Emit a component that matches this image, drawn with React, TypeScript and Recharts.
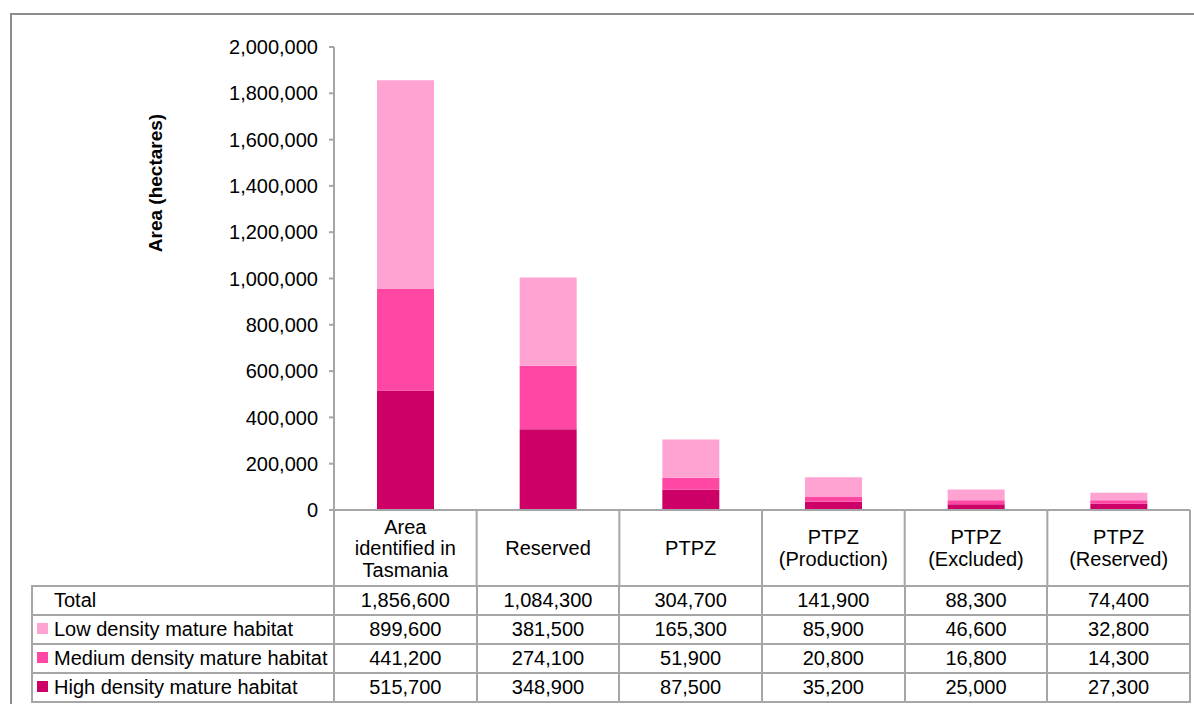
import React from 'react';
import { BarChart, Bar, XAxis, YAxis } from 'recharts';

const categories = ['Area identified in Tasmania', 'Reserved', 'PTPZ', 'PTPZ (Production)', 'PTPZ (Excluded)', 'PTPZ (Reserved)'];
const categoryLines = [['Area', 'identified in', 'Tasmania'], ['Reserved'], ['PTPZ'], ['PTPZ', '(Production)'], ['PTPZ', '(Excluded)'], ['PTPZ', '(Reserved)']];
const totals = [1856600, 1084300, 304700, 141900, 88300, 74400];
const lowDensity = [899600, 381500, 165300, 85900, 46600, 32800];
const mediumDensity = [441200, 274100, 51900, 20800, 16800, 14300];
const highDensity = [515700, 348900, 87500, 35200, 25000, 27300];
const yTicks = [0, 200000, 400000, 600000, 800000, 1000000, 1200000, 1400000, 1600000, 1800000, 2000000];

const series = [
  { key: 'high', name: 'High density mature habitat', color: '#CC0066', values: highDensity },
  { key: 'medium', name: 'Medium density mature habitat', color: '#FF47A3', values: mediumDensity },
  { key: 'low', name: 'Low density mature habitat', color: '#FFA3D2', values: lowDensity },
];

const data = categories.map((c, i) => ({
  category: c,
  high: highDensity[i],
  medium: mediumDensity[i],
  low: lowDensity[i],
}));

const W = 1194;
const H = 704;
const PLOT_LEFT = 334;
const PLOT_RIGHT = 1190;
const HEADER_H = 76;
const TABLE_TOP = 586;
const TABLE_LEFT = 32;
const COL_W = (PLOT_RIGHT - PLOT_LEFT) / categories.length;
const FONT = 'Arial, "Liberation Sans", sans-serif';
const GRID = '#a6a6a6';
const fmt = (v: number) => v.toLocaleString('en-US');

const CategoryTick = (props: any) => {
  const { x, y, index } = props;
  const lines = categoryLines[index] || [];
  const lh = 21.5;
  const cy = y + HEADER_H / 2;
  const start = cy - ((lines.length - 1) * lh) / 2;
  return (
    <g>
      {index === 0 && <line x1={x - COL_W / 2} x2={x - COL_W / 2} y1={y} y2={y + HEADER_H} stroke={GRID} strokeWidth={2} />}
      <line x1={x + COL_W / 2} x2={x + COL_W / 2} y1={y} y2={y + HEADER_H} stroke={GRID} strokeWidth={2} />
      {lines.map((t, i) => (
        <text key={i} x={x} y={start + i * lh} textAnchor="middle" dominantBaseline="central" fontSize={20} fontFamily={FONT} fill="#000">
          {t}
        </text>
      ))}
    </g>
  );
};

const YTitle = () => (
  <text x={155} y={183} transform="rotate(-90, 155, 183)" textAnchor="middle" dominantBaseline="central" fontSize={19} fontWeight="bold" fontFamily={FONT} fill="#000">
    Area (hectares)
  </text>
);

const cell: React.CSSProperties = {
  border: `2px solid ${GRID}`,
  padding: 0,
  height: 27,
  lineHeight: '25px',
  fontSize: 20,
  textAlign: 'center',
  whiteSpace: 'nowrap',
  overflow: 'hidden',
};

export default function App() {
  const rows = [
    { label: 'Total', color: null as string | null, values: totals },
    ...[...series].reverse().map((s) => ({ label: s.name, color: s.color, values: s.values })),
  ];
  return (
    <div style={{ position: 'absolute', left: 0, top: 0, width: W, height: H, overflow: 'hidden', background: '#fff', fontFamily: FONT }}>
      <div style={{ position: 'absolute', left: 10, top: 13, width: W, height: H, borderLeft: '2px solid #8c8c8c', borderTop: '2px solid #8c8c8c' }} />
      <div style={{ position: 'absolute', left: 0, top: 0 }}>
        <BarChart width={W} height={H} data={data} margin={{ top: 47, right: W - PLOT_RIGHT, bottom: H - TABLE_TOP, left: 0 }} barSize={57}>
          <XAxis
            dataKey="category"
            height={HEADER_H}
            axisLine={{ stroke: GRID, strokeWidth: 2 }}
            tickLine={false}
            tickSize={0}
            tickMargin={0}
            interval={0}
            tick={<CategoryTick />}
          />
          <YAxis
            width={PLOT_LEFT}
            domain={[0, 2000000]}
            ticks={yTicks}
            tickFormatter={fmt}
            axisLine={{ stroke: GRID, strokeWidth: 2 }}
            tickLine={{ stroke: GRID, strokeWidth: 2 }}
            tickSize={5}
            tickMargin={11}
            tick={{ fontSize: 20, fontFamily: FONT, fill: '#000' }}
            label={<YTitle />}
          />
          {series.map((s) => (
            <Bar key={s.key} dataKey={s.key} name={s.name} stackId="a" fill={s.color} isAnimationActive={false} />
          ))}
        </BarChart>
      </div>
      <table style={{ position: 'absolute', left: TABLE_LEFT - 1, top: TABLE_TOP - 1, borderCollapse: 'collapse', tableLayout: 'fixed', width: PLOT_RIGHT - TABLE_LEFT + 2 }}>
        <colgroup>
          <col style={{ width: PLOT_LEFT - TABLE_LEFT }} />
          {categories.map((c) => (
            <col key={c} style={{ width: COL_W }} />
          ))}
        </colgroup>
        <tbody>
          {rows.map((r) => (
            <tr key={r.label}>
              <td style={{ ...cell, textAlign: 'left', paddingLeft: r.color ? 4 : 21 }}>
                {r.color && (
                  <span style={{ display: 'inline-block', width: 11, height: 11, background: r.color, marginRight: 6, verticalAlign: 'middle', position: 'relative', top: -2 }} />
                )}
                {r.label}
              </td>
              {r.values.map((v, i) => (
                <td key={i} style={cell}>
                  {fmt(v)}
                </td>
              ))}
            </tr>
          ))}
        </tbody>
      </table>
    </div>
  );
}
